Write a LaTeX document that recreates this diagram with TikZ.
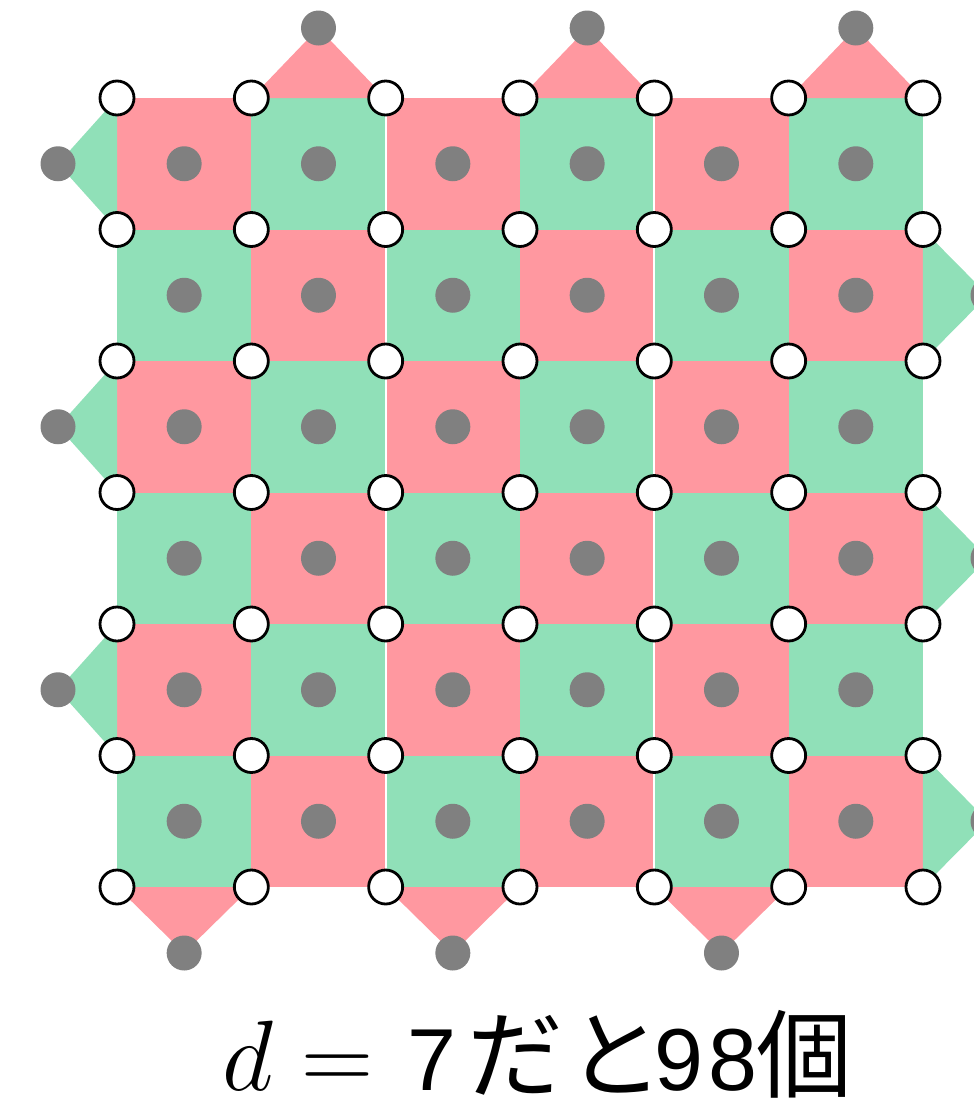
\RequirePackage{fix-cm}
\documentclass[tikz,border=0pt]{standalone}
\usepackage{fontspec}
\newfontfamily\cjk{Noto Sans CJK JP}
\newfontfamily\digits{Liberation Sans}
\definecolor{sqred}{RGB}{255,152,160}
\definecolor{sqgreen}{RGB}{144,224,184}
\definecolor{dotgray}{RGB}{128,128,128}
\begin{document}
\begin{tikzpicture}[x=0.5pt,y=-0.5pt,
  vtx/.style={circle,draw=black,fill=white,line width=1.4pt,minimum size=17pt,inner sep=0pt},
  qdot/.style={circle,fill=dotgray,minimum size=17.5pt,inner sep=0pt},
  gapline/.style={white,line width=1pt}]
\useasboundingbox (0,0) rectangle (974,1098);
% lattice points
\foreach \i in {0,...,6}{
  \foreach \j in {0,...,6}{
    \coordinate (p-\i-\j) at ({117+134.33*\i},{98+131.5*\j});
  }
}
% squares
\foreach \i in {0,...,5}{
  \foreach \j in {0,...,5}{
    \pgfmathtruncatemacro\k{mod(\i+\j,2)}
    \pgfmathtruncatemacro\ii{\i+1}
    \pgfmathtruncatemacro\jj{\j+1}
    \ifnum\k=0 \def\sqcol{sqred}\else\def\sqcol{sqgreen}\fi
    \fill[\sqcol] (p-\i-\j) rectangle (p-\ii-\jj);
    \coordinate (c-\i-\j) at ({117+134.33*(\i+0.5)},{98+131.5*(\j+0.5)});
  }
}
% boundary triangles
\foreach \i in {1,3,5}{
  \pgfmathtruncatemacro\ii{\i+1}
  \coordinate (top-\i) at ({117+134.33*(\i+0.5)},28);
  \fill[sqred] (p-\i-0) -- (top-\i) -- (p-\ii-0) -- cycle;
}
\foreach \i in {0,2,4}{
  \pgfmathtruncatemacro\ii{\i+1}
  \coordinate (bot-\i) at ({117+134.33*(\i+0.5)},953);
  \fill[sqred] (p-\i-6) -- (bot-\i) -- (p-\ii-6) -- cycle;
}
\foreach \j in {0,2,4}{
  \pgfmathtruncatemacro\jj{\j+1}
  \coordinate (lft-\j) at (58,{98+131.5*(\j+0.5)});
  \fill[sqgreen] (p-0-\j) -- (lft-\j) -- (p-0-\jj) -- cycle;
}
\foreach \j in {1,3,5}{
  \pgfmathtruncatemacro\jj{\j+1}
  \coordinate (rgt-\j) at (988,{98+131.5*(\j+0.5)});
  \fill[sqgreen] (p-6-\j) -- (rgt-\j) -- (p-6-\jj) -- cycle;
}
% thin white gaps
\draw[gapline] (p-2-0) -- (p-2-6);
\draw[gapline] (p-4-0) -- (p-4-6);
% gray dots
\foreach \i in {0,...,5}{
  \foreach \j in {0,...,5}{
    \node[qdot] (d-\i-\j) at (c-\i-\j) {};
  }
}
\foreach \i in {1,3,5}{\node[qdot] (dt-\i) at (top-\i) {};}
\foreach \i in {0,2,4}{\node[qdot] (db-\i) at (bot-\i) {};}
\foreach \j in {0,2,4}{\node[qdot] (dl-\j) at (lft-\j) {};}
\foreach \j in {1,3,5}{\node[qdot] (dr-\j) at (rgt-\j) {};}
% white vertices
\foreach \i in {0,...,6}{
  \foreach \j in {0,...,6}{
    \node[vtx] (v-\i-\j) at (p-\i-\j) {};
  }
}
% caption
\node[anchor=base west,inner sep=0pt] (label) at (222,1090)
  {\fontsize{50}{52}\selectfont $d={}$\kern3.5pt%
   {\digits\fontsize{44}{46}\selectfont 7}\kern5.5pt%
   {\cjk\fontsize{48}{50}\selectfont だ\kern2pt と}\kern-4.5pt%
   {\digits\fontsize{44}{46}\selectfont 9\kern2.5pt 8}\kern-0.5pt%
   {\cjk\fontsize{48}{50}\selectfont 個}};
\end{tikzpicture}
\end{document}
